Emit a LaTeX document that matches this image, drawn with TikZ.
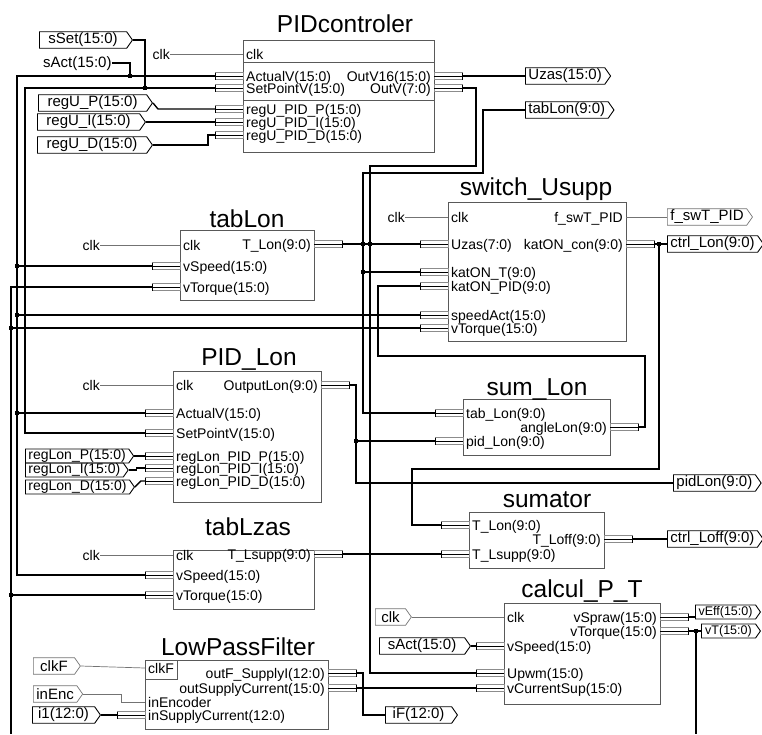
\documentclass[tikz,border=0pt]{standalone}
\usepackage{fontspec}
\setmainfont{Liberation Sans}
\usetikzlibrary{shapes.symbols}

\tikzset{
  blk/.style={draw=black!65, line width=0.8pt},
  ttl/.style={font=\fontsize{24.5}{25}\selectfont, inner sep=0pt, anchor=base},
  lbl/.style={font=\fontsize{14}{14}\selectfont, inner sep=0pt},
  bus/.style={line width=1.4pt},
  sig/.style={draw=black!55, line width=0.7pt},
  stubline/.style={draw=black!45, line width=0.6pt},
  flag/.style={signal, signal to=east, signal pointer angle=110, draw, line width=0.9pt,
    font=\fontsize{15}{15}\selectfont, inner xsep=3pt, inner ysep=0pt, minimum height=16.5pt, anchor=west},
  sflag/.style={flag, draw=black!55, line width=0.7pt},
  lonflag/.style={flag, font=\fontsize{14}{14}\selectfont, minimum height=14pt},
  smallflag/.style={flag, font=\fontsize{12.5}{12.5}\selectfont, minimum height=14pt},
  dot/.style={fill, rectangle, inner sep=0pt, minimum size=4.5pt},
}

% bus pin on the left / right side of a block: name, edge x, y, text
\newcommand\busin[4]{%
  \draw[stubline] (#2-28,#3-3.5) rectangle (#2,#3+3.5);
  \draw[line width=0.9pt] (#2-28,#3) -- (#2,#3);
  \draw[line width=0.8pt] (#2-28,#3-3.5) -- (#2-28,#3+3.5);
  \node[lbl, anchor=base west] (#1-l) at (#2+3,#3+5) {#4};
  \coordinate (#1) at (#2-28,#3);}
\newcommand\busout[4]{%
  \draw[stubline] (#2,#3-3.5) rectangle (#2+28,#3+3.5);
  \draw[line width=0.9pt] (#2,#3) -- (#2+28,#3);
  \draw[line width=0.8pt] (#2+28,#3-3.5) -- (#2+28,#3+3.5);
  \node[lbl, anchor=base east] (#1-l) at (#2-3,#3+5) {#4};
  \coordinate (#1) at (#2+28,#3);}
% single pins
\newcommand\sigin[4]{%
  \node[lbl, anchor=base west] (#1-l) at (#2+3,#3+5) {#4};
  \coordinate (#1) at (#2,#3);}
\newcommand\sigout[4]{%
  \node[lbl, anchor=base east] (#1-l) at (#2-3,#3+5) {#4};
  \coordinate (#1) at (#2,#3);}

\begin{document}
\begin{tikzpicture}[x=1pt, y=-1pt]
\useasboundingbox (0,0) rectangle (762,734);

% PIDcontroler
\draw[blk] (243,40) rectangle (434,152);
\draw[blk] (243,62) -- (434,62) (243,100) -- (434,100);
\node[ttl] (tPIDc) at (345,32) {PIDcontroler};
\sigin{pcClk}{243}{54}{clk}
\busin{pcAct}{243}{76}{ActualV(15:0)}
\busin{pcSet}{243}{88}{SetPointV(15:0)}
\busin{pcP}{243}{109}{regU\_PID\_P(15:0)}
\busin{pcI}{243}{122}{regU\_PID\_I(15:0)}
\busin{pcD}{243}{135}{regU\_PID\_D(15:0)}
\busout{pcOut16}{434}{76}{OutV16(15:0)}
\busout{pcOut}{434}{88}{OutV(7:0)}

% tabLon
\draw[blk] (180,230) rectangle (314,300);
\node[ttl] (tTabLon) at (247,227) {tabLon};
\sigin{tlClk}{180}{245}{clk}
\busin{tlSpd}{180}{266}{vSpeed(15:0)}
\busin{tlTrq}{180}{287}{vTorque(15:0)}
\busout{tlOut}{314}{244}{T\_Lon(9:0)}

% switch_Usupp
\draw[blk] (448,202) rectangle (626,341);
\node[ttl] (tSwitch) at (536,195) {switch\_Usupp};
\sigin{swClk}{448}{217}{clk}
\busin{swUz}{448}{244}{Uzas(7:0)}
\busin{swKT}{448}{272}{katON\_T(9:0)}
\busin{swKP}{448}{286}{katON\_PID(9:0)}
\busin{swSpd}{448}{315}{speedAct(15:0)}
\busin{swTrq}{448}{328}{vTorque(15:0)}
\sigout{swF}{626}{217}{f\_swT\_PID}
\busout{swK}{626}{244}{katON\_con(9:0)}

% PID_Lon
\draw[blk] (173,371) rectangle (321,502);
\node[ttl] (tPidLon) at (249,365) {PID\_Lon};
\sigin{plClk}{173}{385}{clk}
\busin{plAct}{173}{413}{ActualV(15:0)}
\busin{plSet}{173}{433}{SetPointV(15:0)}
\busin{plP}{173}{456}{regLon\_PID\_P(15:0)}
\busin{plI}{173}{468}{regLon\_PID\_I(15:0)}
\busin{plD}{173}{481}{regLon\_PID\_D(15:0)}
\busout{plOut}{321}{385}{OutputLon(9:0)}

% sum_Lon
\draw[blk] (463,399) rectangle (610,455);
\node[ttl] (tSumLon) at (537,395) {sum\_Lon};
\busin{smTab}{463}{413}{tab\_Lon(9:0)}
\busin{smPid}{463}{441}{pid\_Lon(9:0)}
\busout{smAng}{610}{427}{angleLon(9:0)}

% sumator
\draw[blk] (469,512) rectangle (604,568);
\node[ttl] (tSumator) at (547,507) {sumator};
\busin{suLon}{469}{525}{T\_Lon(9:0)}
\busin{suSup}{469}{554}{T\_Lsupp(9:0)}
\busout{suOff}{604}{539}{T\_Loff(9:0)}

% tabLzas
\draw[blk] (173,550) rectangle (314,609);
\node[ttl] (tTabLzas) at (248,535) {tabLzas};
\sigin{tzClk}{173}{555}{clk}
\busin{tzSpd}{173}{575}{vSpeed(15:0)}
\busin{tzTrq}{173}{595}{vTorque(15:0)}
\busout{tzOut}{314}{554}{T\_Lsupp(9:0)}

% calcul_P_T
\draw[blk] (504,603) rectangle (660,704);
\node[ttl] (tCalcul) at (582,597) {calcul\_P\_T};
\sigin{cpClk}{504}{617}{clk}
\busin{cpSpd}{504}{646}{vSpeed(15:0)}
\busin{cpPwm}{504}{673}{Upwm(15:0)}
\busin{cpCur}{504}{688}{vCurrentSup(15:0)}
\busout{cpSpr}{660}{617}{vSpraw(15:0)}
\busout{cpTrq}{660}{631}{vTorque(15:0)}

% LowPassFilter
\draw[blk] (145,660) rectangle (328,729);
\draw[blk] (177,660) |- (145,679);
\node[ttl] (tLpf) at (238,655) {LowPassFilter};
\sigin{lpClk}{145}{668}{clkF}
\sigin{lpEnc}{145}{702}{inEncoder}
\busin{lpCur}{145}{715}{inSupplyCurrent(12:0)}
\busout{lpOutF}{328}{673}{outF\_SupplyI(12:0)}
\busout{lpOut}{328}{688}{outSupplyCurrent(15:0)}

% port flags
\node[flag, minimum width=93] (fSSet) at (39,40) {sSet(15:0)};
\node[lbl, anchor=base west, font=\fontsize{15}{15}\selectfont] (fSActT) at (43,67) {sAct(15:0)};
\node[flag, minimum width=114] (fRegUP) at (38,103) {regU\_P(15:0)};
\node[flag, minimum width=108] (fRegUI) at (37,122) {regU\_I(15:0)};
\node[flag, minimum width=115] (fRegUD) at (37,145) {regU\_D(15:0)};
\node[flag, minimum width=85] (fUzas) at (525,76) {Uzas(15:0)};
\node[flag, minimum width=88] (fTabLon) at (525,110) {tabLon(9:0)};
\node[sflag, minimum width=83] (fSwT) at (667,217) {f\_swT\_PID};
\node[flag, minimum width=93] (fCtrlLon) at (667,244) {ctrl\_Lon(9:0)};
\node[flag, minimum width=85] (fPidLon) at (673,483) {pidLon(9:0)};
\node[flag, minimum width=93] (fCtrlLoff) at (667,539) {ctrl\_Loff(9:0)};
\node[sflag, minimum width=36] (fClk) at (375,617) {clk};
\node[flag, minimum width=91] (fSAct) at (379,646) {sAct(15:0)};
\node[smallflag, minimum width=65] (fVEff) at (695,612) {vEff(15:0)};
\node[smallflag, minimum width=59] (fVT) at (701,631) {vT(15:0)};
\node[lonflag, minimum width=103] (fRegLP) at (25,456) {regLon\_P(15:0)};
\node[lonflag, minimum width=97] (fRegLI) at (25,470) {regLon\_I(15:0)};
\node[lonflag, minimum width=103] (fRegLD) at (25,487) {regLon\_D(15:0)};
\node[sflag, minimum width=47] (fClkF) at (33,666) {clkF};
\node[sflag, minimum width=47] (fInEnc) at (33,694) {inEnc};
\node[flag, minimum width=68] (fI1) at (32,715) {i1(12:0)};
\node[flag, minimum width=72] (fIF) at (385,715) {iF(12:0)};

% clock texts
\node[lbl, anchor=base east] (cPc) at (170,59) {clk};
\node[lbl, anchor=base east] (cTl) at (100,250) {clk};
\node[lbl, anchor=base east] (cSw) at (405,222) {clk};
\node[lbl, anchor=base east] (cPl) at (100,390) {clk};
\node[lbl, anchor=base east] (cTz) at (100,560) {clk};

% single wires
\draw[sig] (cPc.east |- pcClk) -- (pcClk);
\draw[sig] (cTl.east |- tlClk) -- (tlClk);
\draw[sig] (cSw.east |- swClk) -- (swClk);
\draw[sig] (cPl.east |- plClk) -- (plClk);
\draw[sig] (cTz.east |- tzClk) -- (tzClk);
\draw[sig] (fClk.east) -- (cpClk);
\draw[sig] (fClkF.east) -- (lpClk);
\draw[sig] (fInEnc.east) -- ++(38,0) |- (lpEnc);
\draw[sig] (swF) -- (fSwT.west);

% sAct net
\coordinate (jSAct) at (130,76);
\coordinate (sAL) at (17,76);
\draw[bus] (fSActT.east) -| (jSAct);
\draw[bus] (pcAct) -- (sAL) |- (tzSpd);
\draw[bus] (tlSpd -| sAL) -- (tlSpd);
\draw[bus] (swSpd -| sAL) -- (swSpd);
\draw[bus] (plAct -| sAL) -- (plAct);

% sSet net
\coordinate (jSSet) at (145,88);
\coordinate (ssL) at (25,88);
\draw[bus] (fSSet.east) -| (jSSet);
\draw[bus] (pcSet) -- (ssL) |- (plSet);

% vTorque net
\coordinate (vtB) at (11,734);
\draw[bus] (tlTrq) -| (vtB);
\draw[bus] (swTrq -| vtB) -- (swTrq);
\draw[bus] (tzTrq -| vtB) -- (tzTrq);

% gains
\draw[bus] (fRegUP.east) -- ++(5,6) -- (pcP);
\draw[bus] (fRegUI.east) -- (pcI);
\draw[bus] (fRegUD.east) -- ++(55,0) |- (pcD);
\draw[bus] (fRegLP.east) -- (plP);
\draw[bus] (fRegLI.east) -- ++(8,0) |- (plI);
\draw[bus] (fRegLD.east) -- ++(6,-6) |- (plD);

% PIDcontroler outputs
\coordinate (ov1) at (476,166);
\coordinate (ovB) at (370,673);
\draw[bus] (pcOut16) -- (fUzas.west);
\draw[bus] (pcOut) -| (ov1) -| (ovB) -- (cpPwm);

% tabLon net
\coordinate (tb1) at (483,173);
\coordinate (tb2) at (363,413);
\draw[bus] (fTabLon.west) -| (tb1) -| (tb2) -- (smTab);
\draw[bus] (tlOut) -- (swUz);
\draw[bus] (swKT -| tb2) -- (swKT);

% angle loop
\coordinate (kp1) at (378,356);
\coordinate (kp2) at (645,427);
\draw[bus] (swKP) -| (kp1) -| (kp2) -- (smAng);

% ctrl_Lon net
\coordinate (cl0) at (659,244);
\coordinate (cl1) at (412,469);
\draw[bus] (swK) -- (fCtrlLon.west);
\draw[bus] (cl0) |- (cl1) |- (suLon);

% pidLon net
\coordinate (pl1) at (356,483);
\draw[bus] (plOut) -| (pl1) -- (fPidLon.west);
\draw[bus] (smPid -| pl1) -- (smPid);

% sumator and calcul_P_T
\draw[bus] (tzOut) -- (suSup);
\draw[bus] (suOff) -- (fCtrlLoff.west);
\draw[bus] (fSAct.east) -- (cpSpd);
\draw[bus] (cpSpr) -- (fVEff.west |- cpSpr);
\draw[bus] (cpTrq) -- (fVT.west);
\coordinate (vt2) at (696,734);
\draw[bus] (cpTrq -| vt2) -- (vt2);

% LowPassFilter
\coordinate (of1) at (363,715);
\draw[bus] (lpOutF) -| (of1) -- (fIF.west);
\draw[bus] (lpOut) -- (cpCur);
\draw[bus] (fI1.east) -- (lpCur);

% junctions
\node[dot] (d1) at (jSAct) {};
\node[dot] (d2) at (jSSet) {};
\node[dot] (d3) at (tlSpd -| sAL) {};
\node[dot] (d4) at (swSpd -| sAL) {};
\node[dot] (d5) at (plAct -| sAL) {};
\node[dot] (d6) at (swTrq -| vtB) {};
\node[dot] (d7) at (tzTrq -| vtB) {};
\node[dot] (d8) at (swUz -| tb2) {};
\node[dot] (d9) at (swUz -| ovB) {};
\node[dot] (d10) at (swKT -| tb2) {};
\node[dot] (d11) at (cl0) {};
\node[dot] (d12) at (smPid -| pl1) {};
\node[dot] (d13) at (cpTrq -| vt2) {};
\end{tikzpicture}
\end{document}
